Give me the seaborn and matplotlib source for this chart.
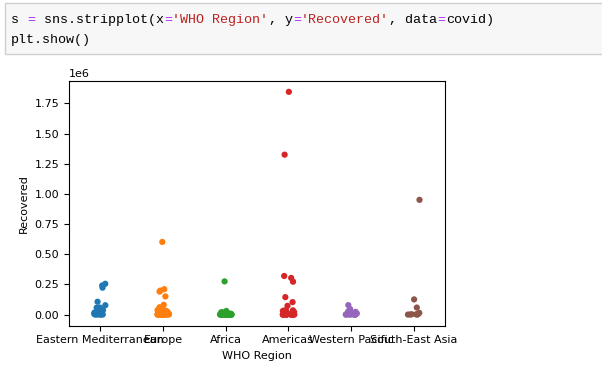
import numpy as np
import pandas as pd
import matplotlib
matplotlib.use("Agg")
import matplotlib.pyplot as plt
import seaborn as sns
from matplotlib.patches import Rectangle

# ---------------- data (Recovered per country, grouped by WHO Region) ----------------
regions = ["Eastern Mediterranean", "Europe", "Africa", "Americas",
           "Western Pacific", "South-East Asia"]

eastern_mediterranean = [25198, 36110, 4977, 34838, 255144, 77144, 1041, 56896, 1709,
                         577, 16553, 58263, 241026, 106328, 222936, 1543, 5939, 196,
                         1157, 52510, 3752, 833]
europe = [2745, 803, 26665, 18246, 23242, 60492, 17452, 5260, 5585, 4184, 852, 11428,
          12605, 1923, 6920, 81212, 980, 190314, 1374, 13, 12, 3329, 1823, 23364, 27133,
          198593, 54404, 4027, 21205, 1045, 81, 1652, 4825, 665, 16154, 104, 309, 189,
          5564, 8752, 32856, 35375, 26442, 602249, 657, 11186, 1616, 1733, 150376, 0,
          30900, 6257, 210469, 37202, 1437, 11674]
africa = [18837, 242, 1036, 63, 926, 301, 1670, 15320, 1546, 810, 328, 829, 5700, 7903,
          2182, 191, 1025, 5336, 5308, 66, 29801, 6257, 803, 7833, 128, 646, 4338, 1645,
          1913, 4653, 332, 795, 101, 1027, 18203, 1027, 734, 6477, 39, 1362, 274925, 1175,
          183, 607, 986, 8, 3626, 542]
americas = [65, 72575, 91, 94, 26, 21478, 1846641, 103106, 319954, 144308, 4044, 2351,
            18, 30204, 34896, 7778, 23, 32455, 181, 4365, 5039, 714, 303810, 2492, 35086,
            2905, 272547, 15, 22, 39, 925, 128, 1325804, 951, 9959]
western_pacific = [9311, 138, 147, 78032, 18, 22275, 19, 8601, 222, 1514, 11, 26446,
                   45692, 13007, 440, 365]
south_east_asia = [125683, 86, 292, 951166, 58173, 2547, 13754, 2121, 3111, 0]

region_values = [eastern_mediterranean, europe, africa, americas,
                 western_pacific, south_east_asia]

covid = pd.DataFrame({
    "WHO Region": [r for r, vals in zip(regions, region_values) for _ in vals],
    "Recovered": [v for vals in region_values for v in vals],
})

code_line1 = [("s ", "#000000"), ("=", "#aa22ff"), (" sns.stripplot(x", "#000000"),
              ("=", "#aa22ff"), ("'WHO Region'", "#ba2121"), (", y", "#000000"),
              ("=", "#aa22ff"), ("'Recovered'", "#ba2121"), (", data", "#000000"),
              ("=", "#aa22ff"), ("covid)", "#000000")]
code_line2 = [("plt.show()", "#000000")]

# ---------------- figure ----------------
W, H = 602, 373
DPI = 100
plt.rcParams["font.family"] = ["DejaVu Sans"]
plt.rcParams["font.size"] = 8
fig = plt.figure(figsize=(W / DPI, H / DPI), dpi=DPI)
fig.patch.set_facecolor("white")


def fx(x):
    return x / W


def fy(y):
    return 1 - y / H


# code cell
fig.patches.append(Rectangle((fx(5), fy(53.5)), fx(612) - fx(5), fy(2.7) - fy(53.5),
                             transform=fig.transFigure, facecolor="#f7f7f7",
                             edgecolor="#cfcfcf", linewidth=1.0))
code_fs = 9.65
renderer = fig.canvas.get_renderer()
for line, ypix in ((code_line1, 20), (code_line2, 39.5)):
    xpix = 11.0
    for txt, color in line:
        t = fig.text(fx(xpix), fy(ypix), txt, color=color,
                     family="Liberation Mono", fontsize=code_fs,
                     va="center", ha="left")
        bb = t.get_window_extent(renderer=renderer)
        xpix += bb.width + 0.3

# chart
ax = fig.add_axes([fx(69), fy(325.7), fx(445) - fx(69), fy(80.7) - fy(325.7)])
np.random.seed(3)
s = sns.stripplot(x="WHO Region", y="Recovered", data=covid, hue="WHO Region",
                  palette="tab10", legend=False, size=4.5, ax=ax)
ax.set_xlabel("WHO Region")
ax.set_ylabel("Recovered")
for sp in ax.spines.values():
    sp.set_color("black")
    sp.set_linewidth(0.8)

fig.savefig("out.png", dpi=DPI)
